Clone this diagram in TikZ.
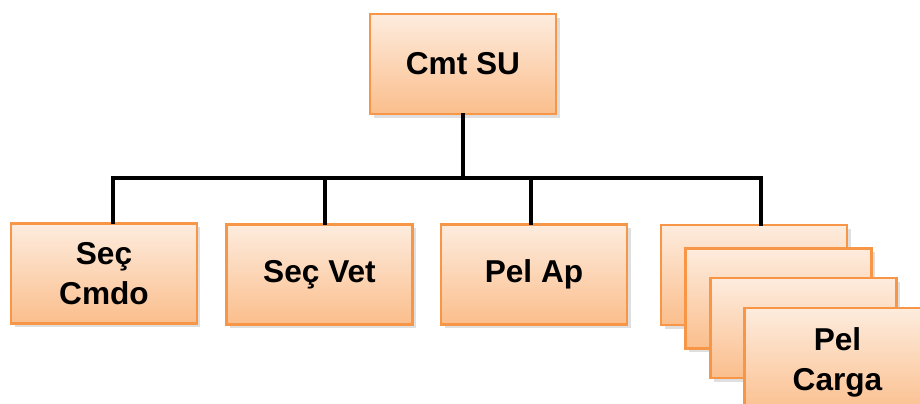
\documentclass[tikz,border=0pt]{standalone}
\usepackage{fontspec}
\setmainfont{Liberation Sans}
\usepackage{tikz}
\usetikzlibrary{shadows,calc}
\definecolor{boxtop}{RGB}{253,236,222}
\definecolor{boxbot}{RGB}{251,190,140}
\definecolor{boxline}{RGB}{247,150,70}

\begin{document}
\begin{tikzpicture}[x=0.02cm,y=-0.02cm]
\tikzstyle{unit}=[rectangle, draw=boxline, line width=1.2pt, top color=boxtop, bottom color=boxbot, minimum width=3.72cm, minimum height=2cm, inner sep=0pt, align=center, font=\fontsize{18}{22.7}\selectfont\bfseries, drop shadow={opacity=0.25, shadow xshift=2pt, shadow yshift=-2pt}]
\tikzstyle{link}=[line width=2.3pt, line cap=rect]

\clip (0,0) rectangle (920,403);

\node[unit] (cmt) at (463,64) {Cmt SU};

\node[unit] (cmdo) at (104,273.5) {Seç\\Cmdo};
\node[unit] (vet) at (319.5,274.5) {Seç Vet};
\node[unit] (ap) at (534,274.5) {Pel Ap};

% pelotoes de carga
\node[unit] (pel1) at (754,275) {};
\node[unit] (pel2) at (778.5,298.5) {};
\node[unit] (pel3) at (803.5,328) {};
\node[unit, minimum height=2.16cm] (pel4) at (837.5,362) {Pel\\Carga};

\coordinate (busL) at (113,178);
\coordinate (busR) at (761,178);

\draw[link] (busL) -- (busR);
\draw[link] (cmt.south) -- (cmt.south |- busL);
\draw[link] (busL) -- ($(cmdo.north)+(9,0)$);
\draw[link] ($(vet.north |- busL)+(5.5,0)$) -- ($(vet.north)+(5.5,0)$);
\draw[link] ($(ap.north |- busL)+(-3,0)$) -- ($(ap.north)+(-3,0)$);
\draw[link] (busR) -- ($(pel1.north)+(7,0)$);
\end{tikzpicture}
\end{document}
